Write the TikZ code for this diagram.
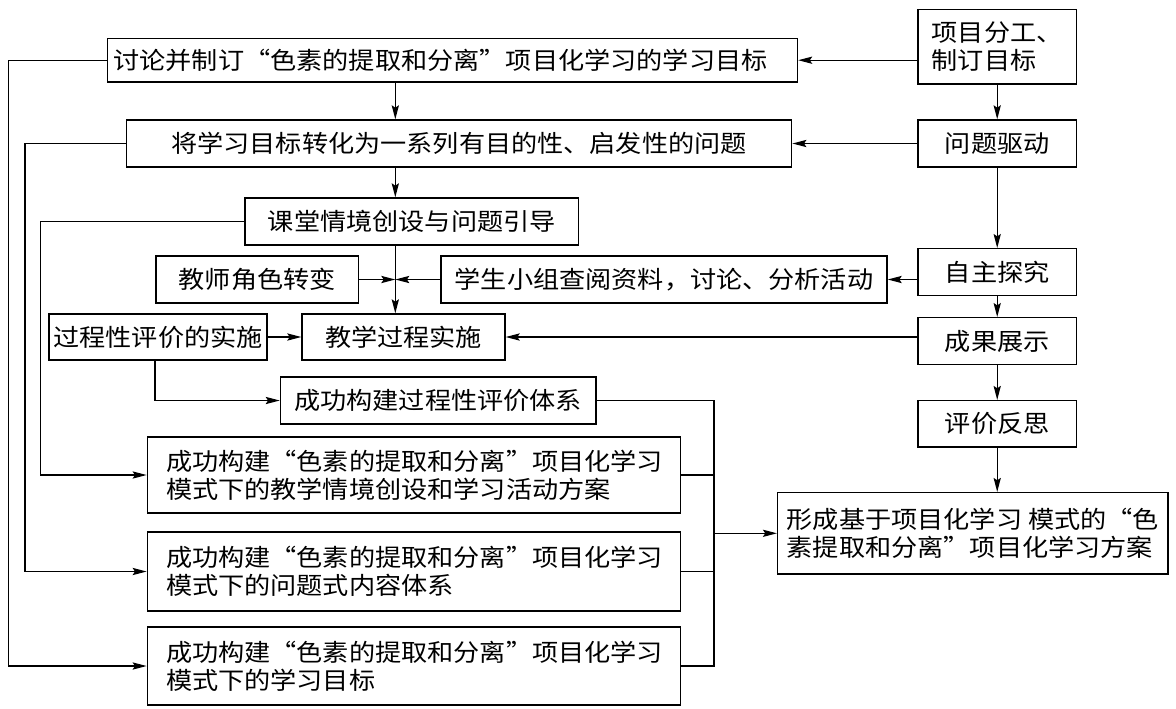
\documentclass[tikz,border=0pt]{standalone}
\usepackage{fontspec}
\newfontfamily\cjk[FakeStretch=1.09]{Noto Sans CJK SC}
\usetikzlibrary{arrows.meta}
\begin{document}
\begin{tikzpicture}[x=0.5pt,y=-0.5pt,
 box/.style={draw, line width=0.7pt, inner sep=0pt, font=\cjk\fontsize{12pt}{14.2pt}\selectfont, align=center},
 lbox/.style={box, align=left, text width=248pt, minimum width=266.7pt},
 arr/.style={line width=0.65pt, -{Stealth[length=7pt,width=3.6pt,inset=1.2pt]}},
 ln/.style={line width=0.65pt}]
\useasboundingbox (0,0) rectangle (1176,708);
% nodes
\node[box, align=left, text width=339pt, minimum width=345pt, minimum height=21.9pt] (A) at (452.5,60.2) {讨论并制订“色素的提取和分离”项目化学习的学习目标};
\node[box, minimum width=332.7pt, minimum height=23.5pt] (B) at (459,143.5) {将学习目标转化为一系列有目的性、启发性的问题};
\node[box, minimum width=166.8pt, minimum height=23.5pt] (C) at (411.8,221.5) {课堂情境创设与问题引导};
\node[box, minimum width=101.4pt, minimum height=23.5pt] (D) at (257.2,279.5) {教师角色转变};
\node[box, minimum width=223pt, minimum height=23.5pt] (E) at (664,279.5) {学生小组查阅资料，讨论、分析活动};
\node[box, minimum width=109pt, minimum height=23pt] (F) at (158,337) {过程性评价的实施};
\node[box, minimum width=101.5pt, minimum height=23pt] (G) at (403.5,337) {教学过程实施};
\node[box, minimum width=157.8pt, minimum height=23.5pt] (N) at (438.2,400.5) {成功构建过程性评价体系};
\node[lbox, minimum height=38pt] (P1) at (414,475) {成功构建“色素的提取和分离”项目化学习\\模式下的教学情境创设和学习活动方案};
\node[lbox, minimum height=39.5pt] (P2) at (414,571.5) {成功构建“色素的提取和分离”项目化学习\\模式下的问题式内容体系};
\node[lbox, minimum height=39pt] (P3) at (414,666) {成功构建“色素的提取和分离”项目化学习\\模式下的学习目标};
\node[box, align=left, minimum width=79.2pt, minimum height=37.4pt] (H) at (997.2,46.7) {项目分工、\\制订目标};
\node[box, minimum width=79.2pt, minimum height=23.5pt] (I) at (997.2,143.5) {问题驱动};
\node[box, minimum width=79.2pt, minimum height=23.5pt] (J) at (997.2,272.2) {自主探究};
\node[box, minimum width=79.2pt, minimum height=23.5pt] (K) at (997.2,341.2) {成果展示};
\node[box, minimum width=79.2pt, minimum height=23.2pt] (L) at (997.2,423.8) {评价反思};
\node[box, align=left, minimum width=195.2pt, minimum height=40.7pt] (M) at (972.8,533.3) {形成基于项目化学习 模式的“色\\素提取和分离”项目化学习方案};
% helper coordinates
\coordinate (cx) at (395.3,0);
\coordinate (bx) at (714,0);
\coordinate (fx) at (155,0);
\coordinate (x1) at (8.4,0);
\coordinate (x2) at (24.9,0);
\coordinate (x3) at (40.2,0);
% right column
\draw[arr] (H) -- (I);
\draw[arr] (I) -- (J);
\draw[arr] (J) -- (K);
\draw[arr] (K) -- (L);
\draw[arr] (L.south) -- (M.north -| L.south);
\draw[arr] (H.west |- A.east) -- (A.east);
\draw[arr] (I.west |- B.east) -- (B.east);
\draw[arr] (J.west |- E.east) -- (E.east);
\draw[arr] (K.west |- G.east) -- (G.east);
% central column
\draw[arr] (A.south -| cx) -- (B.north -| cx);
\draw[arr] (B.south -| cx) -- (C.north -| cx);
\draw[arr] (C.south -| cx) -- (G.north -| cx);
\draw[arr] (D.east) -- (D.east -| cx);
\draw[arr] (E.west) -- (E.west -| cx);
\draw[arr] (F.east) -- (G.west);
\draw[arr] (F.south -| fx) |- (N.west);
% bracket
\draw[ln] (N.east) -| (P3.east -| bx) -- (P3.east);
\draw[ln] (P1.east) -- (P1.east -| bx);
\draw[ln] (P2.east) -- (P2.east -| bx);
\draw[arr] (M.west -| bx) -- (M.west);
% feedback lines
\draw[arr] (A.west) -- (A.west -| x1) |- (P3.west);
\draw[arr] (B.west) -- (B.west -| x2) |- (P2.west);
\draw[arr] (C.west) -- (C.west -| x3) |- (P1.west);
\end{tikzpicture}
\end{document}
